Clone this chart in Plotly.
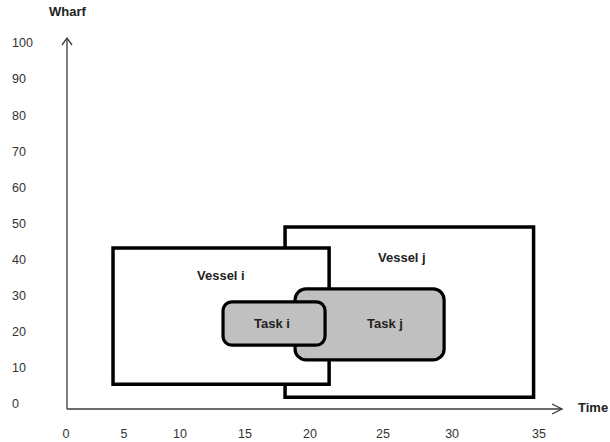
import plotly.graph_objects as go

# ---------------- data ----------------
x_tick_labels = ["0", "5", "10", "15", "20", "25", "30", "35"]
x_tick_pos = [0, 4.29, 8.44, 13.25, 18.06, 23.46, 28.57, 35]
y_tick_vals = [0, 10, 20, 30, 40, 50, 60, 70, 80, 90, 100]

vessel_names = ["Vessel j", "Vessel i"]
vessel_x0 = [16.21, 3.48]
vessel_x1 = [34.60, 19.47]
vessel_y0 = [1.9, 5.5]
vessel_y1 = [49.0, 43.2]
vessel_label_x = [24.87, 11.47]
vessel_label_y = [40.7, 35.7]

task_names = ["Task j", "Task i"]
task_x0 = [16.95, 11.62]
task_x1 = [27.98, 19.17]
task_y0 = [12.2, 16.3]
task_y1 = [31.9, 28.3]
task_label_x = [23.6, 15.25]
task_label_y = [22.2, 22.2]

# ---------------- geometry of the canvas ----------------
W, H = 610, 442
PX_X = 13.514   # pixels per x unit
PX_Y = 3.61     # pixels per y unit
X0_PX = 66      # pixel of x = 0
Y0_PX = 404     # pixel of y = 0 (from top)
x_range = [-X0_PX / PX_X, (W - X0_PX) / PX_X]
y_range = [-(H - Y0_PX) / PX_Y, Y0_PX / PX_Y]

def px2x(p):
    return (p - X0_PX) / PX_X

def px2y(p):
    return (Y0_PX - p) / PX_Y

fig = go.Figure()
shapes = []

def rounded_path(x0, x1, y0, y1, r_px):
    rx = r_px / PX_X
    ry = r_px / PX_Y
    k = 0.5523
    return (
        f"M {x0+rx},{y0} L {x1-rx},{y0} "
        f"C {x1-rx+k*rx},{y0} {x1},{y0+ry-k*ry} {x1},{y0+ry} "
        f"L {x1},{y1-ry} "
        f"C {x1},{y1-ry+k*ry} {x1-rx+k*rx},{y1} {x1-rx},{y1} "
        f"L {x0+rx},{y1} "
        f"C {x0+rx-k*rx},{y1} {x0},{y1-ry+k*ry} {x0},{y1-ry} "
        f"L {x0},{y0+ry} "
        f"C {x0},{y0+ry-k*ry} {x0+rx-k*rx},{y0} {x0+rx},{y0} Z"
    )

# axes (drawn as lines with open arrow heads)
ax_x = px2x(67)
ax_y = px2y(409)
top_y = px2y(38)
right_x = px2x(562)
axis_col = "#3a3a3a"
shapes.append(dict(type="line", xref="x", yref="y", x0=ax_x, x1=ax_x, y0=ax_y, y1=top_y,
                   line=dict(color=axis_col, width=1.3), layer="below"))
shapes.append(dict(type="line", xref="x", yref="y", x0=ax_x, x1=right_x, y0=ax_y, y1=ax_y,
                   line=dict(color=axis_col, width=1.3), layer="below"))
# arrow heads
shapes.append(dict(type="path", xref="x", yref="y",
                   path=f"M {ax_x-5/PX_X},{top_y-7/PX_Y} L {ax_x},{top_y} L {ax_x+5/PX_X},{top_y-7/PX_Y}",
                   line=dict(color=axis_col, width=1.3)))
shapes.append(dict(type="path", xref="x", yref="y",
                   path=f"M {right_x-10/PX_X},{ax_y+5/PX_Y} L {right_x},{ax_y} L {right_x-10/PX_X},{ax_y-5/PX_Y}",
                   line=dict(color=axis_col, width=1.3)))

# vessels
for i in range(len(vessel_names)):
    shapes.append(dict(type="rect", xref="x", yref="y",
                       x0=vessel_x0[i], x1=vessel_x1[i], y0=vessel_y0[i], y1=vessel_y1[i],
                       fillcolor="white", line=dict(color="black", width=3.5)))
# tasks
radii = [11, 9]
for i in range(len(task_names)):
    shapes.append(dict(type="path", xref="x", yref="y",
                       path=rounded_path(task_x0[i], task_x1[i], task_y0[i], task_y1[i], radii[i]),
                       fillcolor="#c0c0c0", line=dict(color="black", width=3.2)))

annotations = []
lab_font = dict(family="Liberation Sans, Arial, sans-serif", size=13, color="#222222")
for i in range(len(vessel_names)):
    annotations.append(dict(x=vessel_label_x[i], y=vessel_label_y[i], xref="x", yref="y",
                            text=f"<b>{vessel_names[i]}</b>", showarrow=False, font=lab_font))
for i in range(len(task_names)):
    annotations.append(dict(x=task_label_x[i], y=task_label_y[i], xref="x", yref="y",
                            text=f"<b>{task_names[i]}</b>", showarrow=False, font=lab_font))
annotations.append(dict(x=px2x(68), y=px2y(11), xref="x", yref="y", text="<b>Wharf</b>",
                        showarrow=False, font=lab_font))
annotations.append(dict(x=px2x(592.5), y=px2y(407), xref="x", yref="y", text="<b>Time</b>",
                        showarrow=False, font=lab_font))

# invisible trace so the axes render
fig.add_trace(go.Scatter(x=[0, 35], y=[0, 100], mode="markers", marker=dict(opacity=0),
                         hoverinfo="skip", showlegend=False))

tick_font = dict(family="Liberation Sans, Arial, sans-serif", size=12.5, color="#333333")
fig.update_layout(
    width=W, height=H, autosize=False,
    margin=dict(l=0, r=0, t=0, b=0, pad=0),
    paper_bgcolor="white", plot_bgcolor="white",
    shapes=shapes, annotations=annotations,
    xaxis=dict(range=x_range, domain=[0, 1], anchor="free", position=(H - 424) / H,
               tickmode="array", tickvals=x_tick_pos, ticktext=x_tick_labels,
               showgrid=False, zeroline=False, showline=False, ticks="",
               tickfont=tick_font, fixedrange=True),
    yaxis=dict(range=y_range, domain=[0, 1], anchor="free", position=8 / W,
               tickmode="array", tickvals=y_tick_vals,
               ticklabelposition="inside",
               showgrid=False, zeroline=False, showline=False, ticks="",
               tickfont=tick_font, fixedrange=True),
    showlegend=False,
)

fig.write_html(
    "out.html",
    config={"displayModeBar": False, "staticPlot": True},
    post_script="document.body.style.margin='0px';document.body.style.overflow='hidden';",
)
